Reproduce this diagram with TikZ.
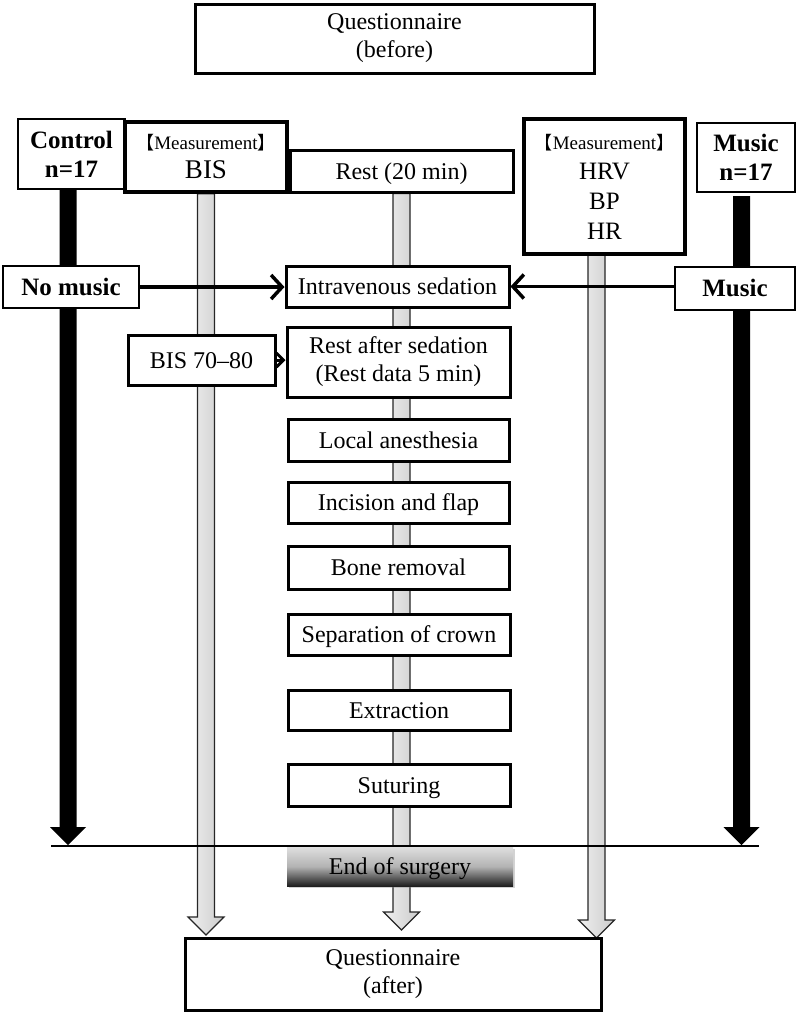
\documentclass[tikz,border=0pt]{standalone}
\usepackage{fontspec}
\setmainfont{Liberation Serif}
\newfontfamily\cjk{Noto Sans CJK JP}
\usetikzlibrary{arrows.meta,shadows,calc}
\pgfdeclarelayer{bg}
\pgfsetlayers{bg,main}
\newcommand{\blockarrow}[3]{%
  \path[#1] let \p1=(#2), \p2=(#3) in
   (\x1-8.5pt,\y1) -- (\x1+8.5pt,\y1) -- (\x1+8.5pt,\y2+18pt) -- (\x1+18pt,\y2+18pt)
   -- (\x1,\y2) -- (\x1-18pt,\y2+18pt) -- (\x1-8.5pt,\y2+18pt) -- cycle;}
\newcommand{\meas}{{\cjk\fontsize{18}{20}\selectfont 【}Measurement{\cjk\fontsize{18}{20}\selectfont 】}}
\begin{document}
\begin{tikzpicture}[x=1pt,y=-1pt,
  box/.style={draw, fill=white, line width=3pt, align=center, inner sep=0pt,
    font=\fontsize{24}{28}\selectfont},
  one/.style={text height=18pt, text depth=2pt},
  thinbox/.style={box, line width=2pt, font=\bfseries\fontsize{25}{29}\selectfont},
  measbox/.style={box, line width=3.5pt},
  grayarr/.style={draw=black!85, line width=1.2pt, left color=gray!12, right color=gray!40},
  blackarr/.style={fill=black},
  barb/.style={line width=3.5pt, -{Straight Barb[length=11pt,width=24pt,line width=3.5pt]}},
]
\useasboundingbox (0,0) rectangle (797,1013);

% nodes
\node[box, minimum width=399, minimum height=69] (qb) at (394.5,38.5) {Questionnaire\\(before)};
\node[thinbox, minimum width=107, minimum height=70] (control) at (71.5,154) {Control\\n=17};
\node[measbox, minimum width=162, minimum height=70] (bism) at (206,157)
  {{\fontsize{19}{21}\selectfont\meas}\\[1pt]{\fontsize{27}{29}\selectfont BIS}};
\node[box, one, minimum width=223, minimum height=42] (rest) at (401.5,171) {Rest (20 min)};
\node[measbox, minimum width=161, minimum height=135, font=\fontsize{25}{30}\selectfont] (hrv) at (604.5,186.5)
  {{\fontsize{19}{21}\selectfont\meas}\\HRV\\BP\\HR};
\node[thinbox, minimum width=98, minimum height=69] (musicn) at (746,157.5) {Music\\n=17};
\node[thinbox, one, minimum width=136, minimum height=42] (nomusic) at (71,287) {No music};
\node[box, one, minimum width=223, minimum height=41] (iv) at (397.5,286.5) {Intravenous sedation};
\node[thinbox, one, minimum width=120, minimum height=43] (music) at (735,288.5) {Music};
\node[box, one, minimum width=147, minimum height=50] (bis78) at (201.5,360) {BIS 70--80};
\node[box, minimum width=223, minimum height=70] (ras) at (398.5,362) {Rest after sedation\\(Rest data 5 min)};
\node[box, one, minimum width=221, minimum height=42] (la) at (398.5,440) {Local anesthesia};
\node[box, one, minimum width=221, minimum height=41] (inc) at (398.5,502.5) {Incision and flap};
\node[box, one, minimum width=221, minimum height=43] (bone) at (398.5,567.5) {Bone removal};
\node[box, one, minimum width=222, minimum height=41] (sep) at (399,634.5) {Separation of crown};
\node[box, one, minimum width=222, minimum height=40] (ext) at (399,710) {Extraction};
\node[box, one, minimum width=222, minimum height=42] (sut) at (399,785) {Suturing};
\node[box, one, draw=none, minimum width=226, minimum height=39,
  top color=gray!25, bottom color=black!88, middle color=gray!60,
  drop shadow={opacity=0.35, shadow xshift=1.5pt, shadow yshift=-2pt}] (endsurg) at (400,866.5) {End of surgery};
\node[box, minimum width=416, minimum height=72] (qa) at (393,974) {Questionnaire\\(after)};

% coordinates for free ends
\coordinate (ctrlTip) at (68,845);
\coordinate (ctrlTop) at (68,189);
\coordinate (musTop) at (741.5,196);
\coordinate (musTip) at (741.5,845);
\coordinate (bisTip) at (208,935);
\coordinate (cenTip) at (399,930);
\coordinate (hrvTop) at (596.5,254);
\coordinate (hrvTip) at (596.5,938);
\coordinate (lineL) at (51,846);
\coordinate (lineR) at (759,846);

\begin{pgfonlayer}{bg}
  \blockarrow{grayarr}{bism.south}{bisTip}
  \blockarrow{grayarr}{rest.south}{cenTip}
  \blockarrow{grayarr}{hrvTop}{hrvTip}
  \blockarrow{blackarr}{ctrlTop}{ctrlTip}
  \blockarrow{blackarr}{musTop}{musTip}
  \draw[line width=2.5pt] (lineL) -- (lineR);
\end{pgfonlayer}

\draw[barb] (nomusic.east) -- (iv.west |- nomusic.east);
\draw[barb] (music.west |- iv.east) -- (iv.east);
\draw[line width=3pt, -{Straight Barb[length=7pt,width=14pt,line width=3pt]}] (bis78.east) -- (ras.west |- bis78.east);
\end{tikzpicture}
\end{document}
